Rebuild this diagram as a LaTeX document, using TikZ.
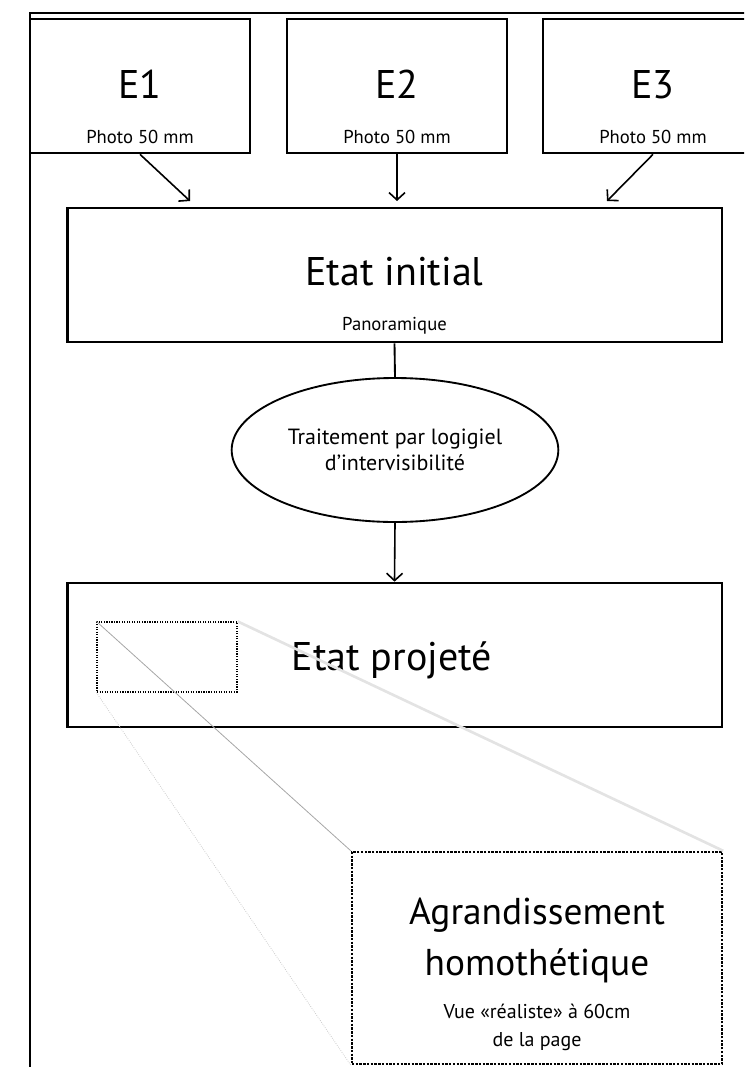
\documentclass[tikz,border=0pt]{standalone}
\usepackage{fontspec}
\setmainfont{PT Sans}
\usetikzlibrary{arrows.meta}
\usetikzlibrary{shapes.geometric}

\begin{document}
\begin{tikzpicture}[x=0.75pt,y=-0.75pt,>/.tip={Straight Barb[length=5.5pt,width=12pt]},
	box/.style={draw,line width=2pt,inner sep=0pt},
	dotbox/.style={draw,densely dotted,line width=1.8pt,inner sep=0pt},
	title/.style={anchor=base,font=\fontsize{30}{36}\selectfont},
	sub/.style={anchor=base,font=\fontsize{14}{18}\selectfont},
	link/.style={->,line width=1.2pt}]
	\useasboundingbox (0,0) rectangle (744,1067);
	\clip (0,0) rectangle (744,1067);
	\draw[line width=1pt] (30,1080) -- (30,13) -- (760,13);
	
	\draw (140,86) node (E1) [box,minimum width=165pt,minimum height=100.5pt] {};
	\node [title] at (140,98) {E1};
	\node [sub] at (140,143) {Photo 50 mm};
	\draw (397,86) node (E2) [box,minimum width=165pt,minimum height=100.5pt] {};
	\node [title] at (397,98) {E2};
	\node [sub] at (397,143) {Photo 50 mm};
	\draw (653,86) node (E3) [box,minimum width=165pt,minimum height=100.5pt] {};
	\node [title] at (653,98) {E3};
	\node [sub] at (653,143) {Photo 50 mm};
	
	\draw (394.5,275) node (init) [box,minimum width=491pt,minimum height=100.5pt] {};
	\node [title] at (394.5,285) {Etat initial};
	\node [sub] at (394.5,330) {Panoramique};
	
	\draw (395,450) node (trait) [ellipse,draw,line width=1.4pt,minimum width=245pt,minimum height=108pt,
		align=center,font=\fontsize{16.5}{19}\selectfont] {Traitement par logigiel\\d’intervisibilité};
	
	\draw (394.5,655) node (proj) [box,minimum width=491pt,minimum height=108pt] {};
	\node [title] at (392,670) {Etat projeté};
	\draw (167,657) node (zone) [draw,densely dotted,line width=0.9pt,minimum width=105pt,minimum height=52.5pt] {};
	
	\draw (537,958) node (agr) [dotbox,minimum width=277.5pt,minimum height=159pt] {};
	\node [title,font=\fontsize{28}{34}\selectfont] at (537,924) {Agrandissement};
	\node [title,font=\fontsize{28}{34}\selectfont] at (537,975) {homothétique};
	\node [sub,font=\fontsize{15}{18}\selectfont] at (537,1018) {Vue «réaliste» à 60cm};
	\node [sub,font=\fontsize{15}{18}\selectfont] at (537,1046) {de la page};
	
	\coordinate (t1) at (190,201);
	\coordinate (t2) at (397,201);
	\coordinate (t3) at (607,201);
	\draw[link] (E1.south) -- (t1);
	\draw[link] (E2.south) -- (t2);
	\draw[link] (E3.south) -- (t3);
	\draw[line width=1.4pt] (init.south) -- (trait.north);
	\draw[link] (trait.south) -- (proj.north);
	
	\draw[gray!70,line width=0.6pt] (zone.north west) -- (agr.north west);
	\draw[gray!22,line width=2pt] (zone.north east) -- (agr.north east);
	\draw[gray!40,densely dotted,line width=0.6pt] (zone.south west) -- (agr.south west);
\end{tikzpicture}
\end{document}
